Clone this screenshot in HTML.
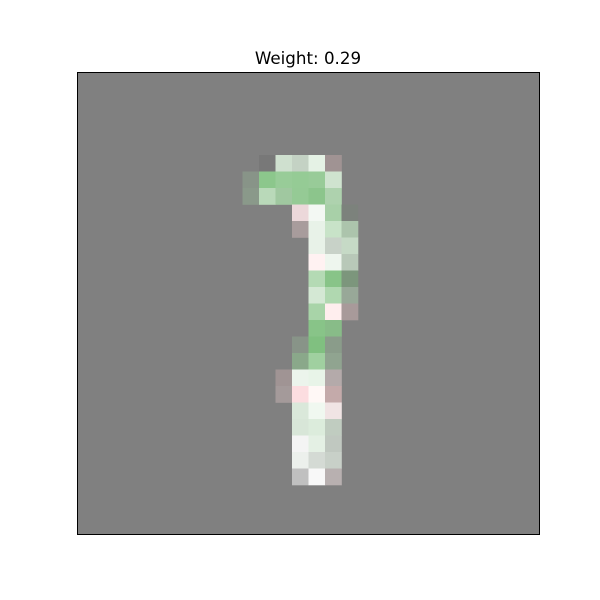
<!DOCTYPE html>
<html><head><meta charset="utf-8"><style>
body{margin:0;background:#fff;width:600px;height:600px;overflow:hidden}
svg{display:block}
</style></head><body>
<svg id="chart" width="600" height="600" xmlns="http://www.w3.org/2000/svg">
<text x="308" y="64" text-anchor="middle" font-family="DejaVu Sans, Liberation Sans, sans-serif" font-size="16.7" fill="#000">Weight: 0.29</text>
<rect x="77.5" y="72.5" width="462" height="462" fill="#808080"/>
<g id="cells"></g>
<rect x="77.5" y="72.5" width="462" height="462" fill="none" stroke="#000" stroke-width="1"/>
</svg>
<script>
const gridSize = 28;
const cellRows = [5,5,5,5,5, 6,6,6,6,6,6, 7,7,7,7,7,7, 8,8,8,8, 9,9,9,9, 10,10,10, 11,11,11, 12,12,12, 13,13,13, 14,14,14, 15,15, 16,16,16, 17,17,17, 18,18,18,18, 19,19,19,19, 20,20,20, 21,21,21, 22,22,22, 23,23,23, 24,24,24];
const cellCols = [11,12,13,14,15, 10,11,12,13,14,15, 10,11,12,13,14,15, 13,14,15,16, 13,14,15,16, 14,15,16, 14,15,16, 14,15,16, 14,15,16, 14,15,16, 14,15, 13,14,15, 13,14,15, 12,13,14,15, 12,13,14,15, 13,14,15, 13,14,15, 13,14,15, 13,14,15, 13,14,15];
const cellColors = ["#787878","#cfe0cf","#c4d2c4","#e5f2e5","#a09393",
"#889488","#8cc78c","#98cc98","#95cb95","#98cb98","#cfe3cf",
"#8a998a","#b9d9b9","#a0c8a0","#95ca95","#8cc58c","#aed2ae",
"#ecd8da","#f3f8f3","#a8d0a8","#7c827c",
"#a89c9c","#e8f2e8","#c8e3c8","#acc4ac",
"#e8f2e8","#c8d2c8","#c6dac6",
"#fff2f2","#eef6ee","#b8c8b8",
"#b4dab4","#88c488","#7c967c",
"#d4e8d4","#b0d8b0","#98a898",
"#a8d4a8","#ffeeee","#a89a9a",
"#88c488","#88bc88",
"#889488","#80c080","#8a9c8a",
"#8aa88a","#a0d0a0","#90a490",
"#a09494","#ecf4ec","#e8f4e8","#b4aaaa",
"#a49a9a","#fcdde0","#fff8f6","#c4aaaa",
"#dae8da","#f0f8f0","#f0e4e4",
"#d8e6d8","#dcecdc","#c0ccc0",
"#f4f4f4","#e4f0e4","#c0c8c0",
"#ecf0ec","#d4dad4","#c8d0c8",
"#c0c0c0","#f8f8f8","#b8b0b0"];

const x0 = 77.5, y0 = 72.5, plotW = 462;
const cell = plotW / gridSize;
const xScale = c => x0 + c * cell;
const yScale = r => y0 + r * cell;
const g = document.getElementById('cells');
for (let i = 0; i < cellColors.length; i++) {
  const r = document.createElementNS('http://www.w3.org/2000/svg', 'rect');
  r.setAttribute('x', xScale(cellCols[i]));
  r.setAttribute('y', yScale(cellRows[i]));
  r.setAttribute('width', cell + 0.3);
  r.setAttribute('height', cell + 0.3);
  r.setAttribute('fill', cellColors[i]);
  
  
  g.appendChild(r);
}
</script>
</body></html>
